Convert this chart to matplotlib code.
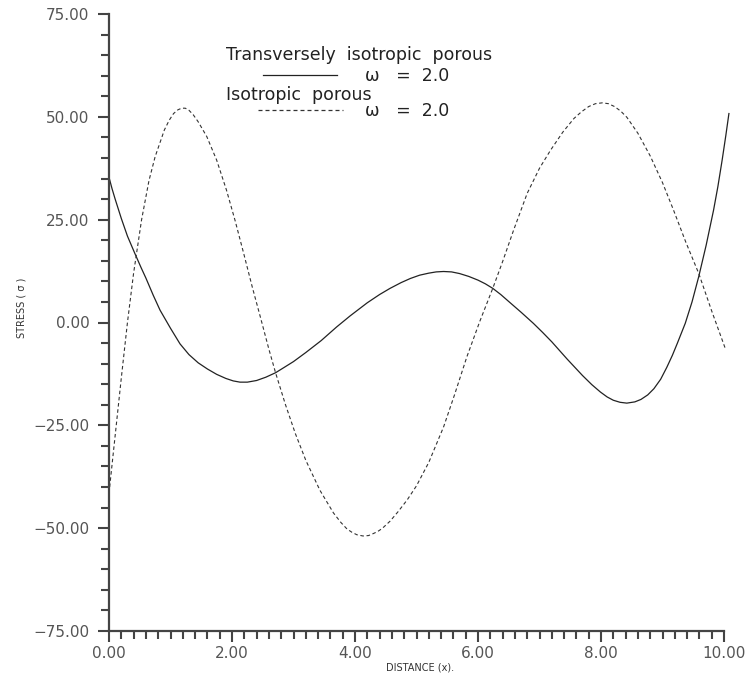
import matplotlib
matplotlib.use("Agg")
import matplotlib.pyplot as plt
from matplotlib.lines import Line2D
from matplotlib.ticker import MultipleLocator, FuncFormatter

# Transversely isotropic porous, omega = 2.0 (solid)
x_trans = [0.0, 0.05, 0.1, 0.2, 0.3, 0.42, 0.52, 0.6, 0.72, 0.83, 1.0, 1.155, 1.3,
           1.45, 1.6, 1.75, 1.9, 2.02, 2.13, 2.25, 2.4, 2.55, 2.71, 2.85, 3.0, 3.2,
           3.45, 3.7, 3.92, 4.2, 4.4, 4.57, 4.75, 4.9, 5.05, 5.2, 5.32, 5.44, 5.57,
           5.7, 5.85, 6.0, 6.12, 6.24, 6.37, 6.5, 6.7, 6.9, 7.05, 7.2, 7.45, 7.7,
           7.85, 7.99, 8.1, 8.2, 8.31, 8.42, 8.55, 8.65, 8.76, 8.86, 8.97, 9.07,
           9.16, 9.24, 9.37, 9.48, 9.59, 9.71, 9.83, 9.9, 9.97, 10.03, 10.08]
stress_trans = [35.3, 32.5, 30.0, 25.3, 21.0, 16.8, 13.4, 10.8, 6.6, 3.0, -1.4, -5.2, -7.8,
                -9.8, -11.3, -12.6, -13.6, -14.2, -14.5, -14.5, -14.1, -13.3, -12.2, -10.9, -9.5, -7.3,
                -4.4, -1.1, 1.6, 4.8, 6.8, 8.3, 9.7, 10.7, 11.5, 12.0, 12.3, 12.4, 12.3,
                11.9, 11.2, 10.3, 9.4, 8.3, 6.8, 5.1, 2.5, -0.2, -2.4, -4.7, -8.9, -12.9,
                -15.1, -16.9, -18.1, -18.9, -19.4, -19.6, -19.3, -18.7, -17.6, -16.1, -13.8, -10.9,
                -8.0, -5.1, -0.2, 5.0, 11.2, 18.8, 27.3, 33.0, 39.5, 45.5, 50.8]

# Isotropic porous, omega = 2.0 (dashed)
x_iso = [0.0, 0.1, 0.2, 0.3, 0.4, 0.53, 0.65, 0.75, 0.9, 0.98, 1.05, 1.12, 1.18, 1.24,
         1.3, 1.37, 1.45, 1.59, 1.75, 1.91, 2.05, 2.19, 2.33, 2.46, 2.6, 2.71, 2.87,
         3.03, 3.2, 3.43, 3.65, 3.77, 3.87, 3.95, 4.03, 4.13, 4.22, 4.3, 4.37, 4.44,
         4.57, 4.7, 4.85, 5.0, 5.2, 5.44, 5.62, 5.82, 6.03, 6.24, 6.4, 6.58, 6.8, 7.0,
         7.18, 7.38, 7.56, 7.68, 7.8, 7.91, 8.02, 8.12, 8.22, 8.32, 8.42, 8.6, 8.8,
         9.0, 9.18, 9.38, 9.59, 9.8, 10.03]
stress_iso = [-41.5, -27.5, -13.5, 0.0, 12.0, 25.0, 34.5, 40.3, 46.8, 49.2, 50.8, 51.7, 52.1, 52.1,
              51.6, 50.5, 48.8, 45.2, 39.5, 32.2, 24.8, 16.8, 8.6, 1.4, -6.5, -12.3, -20.0,
              -27.0, -33.5, -40.8, -46.3, -48.6, -50.2, -51.0, -51.6, -51.9, -51.8, -51.3, -50.8, -50.1,
              -48.3, -46.0, -43.1, -39.7, -34.0, -25.4, -17.5, -8.3, 0.3, 8.3, 14.8, 22.5, 31.4, 37.5,
              41.9, 46.3, 49.6, 51.2, 52.5, 53.2, 53.4, 53.2, 52.5, 51.4, 49.9, 46.0, 40.5,
              34.0, 27.3, 19.5, 11.9, 2.8, -6.7]

legend_titles = ["Transversely  isotropic  porous", "Isotropic  porous"]
legend_values = ["\u03c9   =  2.0", "\u03c9   =  2.0"]

W, H = 745, 679
fig = plt.figure(figsize=(W / 100, H / 100), dpi=100)
ax = fig.add_axes([109 / W, 1 - 631 / H, (724 - 109) / W, (631 - 14) / H])

ax.plot(x_trans, stress_trans, color="#222222", lw=0.9, clip_on=False)
ax.plot(x_iso, stress_iso, color="#333333", lw=0.8, dashes=(3.2, 2.4), clip_on=False)

ax.set_xlim(0, 10)
ax.set_ylim(-75, 75)
ax.xaxis.set_major_locator(MultipleLocator(2))
ax.xaxis.set_minor_locator(MultipleLocator(0.2))
ax.yaxis.set_major_locator(MultipleLocator(25))
ax.yaxis.set_minor_locator(MultipleLocator(5))
fmt = FuncFormatter(lambda v, pos: f"{v:.2f}".replace("-", "\u2212"))
ax.xaxis.set_major_formatter(fmt)
ax.yaxis.set_major_formatter(fmt)

for side in ["top", "right"]:
    ax.spines[side].set_visible(False)
for side in ["left", "bottom"]:
    ax.spines[side].set_linewidth(1.6)
    ax.spines[side].set_color("#444444")

ax.tick_params(which="major", direction="out", length=8, width=1.5, color="#444444",
               labelsize=11, labelcolor="#555555")
ax.tick_params(which="minor", direction="out", length=5.8, width=1.5, color="#444444")
ax.tick_params(axis="y", which="major", pad=6)
ax.tick_params(axis="x", which="major", pad=3)

fig.text(420 / W, 1 - 668 / H, "DISTANCE (x).", fontsize=7, color="#333333",
         ha="center", va="center")
fig.text(22 / W, 1 - 308 / H, "STRESS ( \u03c3 )", fontsize=7, color="#333333",
         ha="center", va="center", rotation=90)

# legend drawn by hand, text above each line sample
fig.text(226 / W, 1 - 55 / H, legend_titles[0], fontsize=12.5, color="#222222", va="center")
fig.add_artist(Line2D([263 / W, 337 / W], [1 - 75 / H, 1 - 75 / H], color="#222222", lw=0.9))
fig.text(365 / W, 1 - 76 / H, legend_values[0], fontsize=12.5, color="#222222", va="center")
fig.text(226 / W, 1 - 95 / H, legend_titles[1], fontsize=12.5, color="#222222", va="center")
fig.add_artist(Line2D([258 / W, 343 / W], [1 - 110 / H, 1 - 110 / H], color="#333333",
                      lw=0.9, dashes=(3.2, 2.4)))
fig.text(365 / W, 1 - 111 / H, legend_values[1], fontsize=12.5, color="#222222", va="center")

fig.savefig("out.png", dpi=100)
